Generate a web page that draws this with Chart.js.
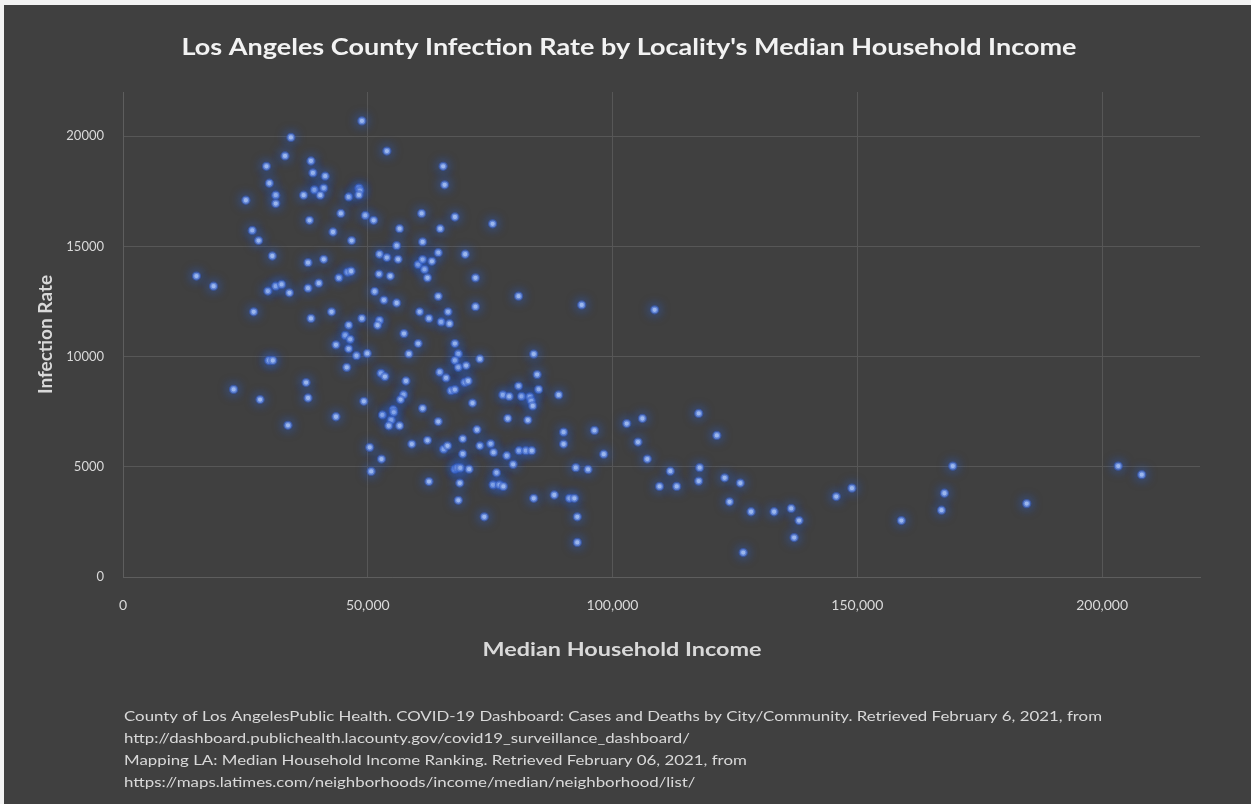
<!DOCTYPE html>
<html>
<head>
<meta charset="utf-8">
<script src="https://cdn.jsdelivr.net/npm/chart.js@4.4.1/dist/chart.umd.min.js"></script>
<style>
  html, body { margin: 0; padding: 0; width: 1251px; height: 804px; overflow: hidden; background: #f3f3f3; }
  #panel { position: absolute; left: 4px; top: 5px; width: 1247px; height: 799px; background: #404040; }
  canvas { display: block; }
</style>
</head>
<body>
<div id="panel"><canvas id="chart" width="1247" height="799"></canvas></div>
<script>
// Median household income (USD) per locality
const incomes = [
  34300, 33100, 29300, 29900, 31200, 31200, 25100, 26400, 27700, 30500,
  15000, 18500, 29600, 31200, 32400, 34000, 26700, 29800, 30600, 22600,
  28000, 33700, 48800, 53900, 38400, 38800, 41300, 39100, 41000, 36900,
  40300, 46100, 48200, 48400, 48200, 44500, 49500, 51200, 38100, 42900,
  46700, 56500, 61000, 65400, 65700, 67800, 75500, 64800, 61200, 55900,
  52400, 53900, 56200, 37800, 41000, 64400, 69900, 60300, 61200, 61600,
  63100, 62200, 72000, 52300, 54600, 37800, 40000, 44100, 45900, 46600,
  51400, 53300, 55900, 64400, 72000, 38400, 42600, 48800, 46100, 45400,
  46400, 52400, 52000, 57400, 60600, 62500, 65000, 66400, 66700, 43500,
  46100, 47700, 49900, 45700, 60300, 58400, 52700, 53500, 57800, 57300,
  56700, 37400, 37800, 49200, 43500, 53000, 55200, 55300, 54800, 54300,
  56500, 61200, 64400, 50400, 52800, 50700, 59000, 62200, 62500, 67800,
  68500, 67800, 68500, 70100, 72900, 64700, 66000, 67000, 67800, 69800,
  70500, 71400, 72300, 69400, 65500, 66300, 72900, 69400, 67800, 68300,
  68900, 70700, 68800, 68500, 80800, 93700, 108600, 83900, 84600, 84900,
  80800, 77600, 78900, 81400, 83100, 83400, 83700, 89000, 78600, 82700,
  75100, 75700, 90000, 90000, 96300, 98200, 78400, 79700, 80900, 82300,
  83500, 92500, 95000, 76300, 75600, 76900, 77700, 83900, 88100, 91200,
  92200, 73800, 92800, 92800, 102900, 106100, 105200, 107100, 111800, 109600,
  113100, 117600, 121300, 117800, 117600, 122900, 126100, 123900, 128300, 133000,
  136500, 138100, 137100, 126700, 145700, 148900, 159000, 167200, 167800, 169500,
  184600, 203300, 208100
];

// Infection rate per locality, same order as incomes
const infectionRates = [
  19940, 19100, 18630, 17860, 17320, 16940, 17090, 15720, 15260, 14560,
  13650, 13190, 12970, 13190, 13270, 12890, 12030, 9820, 9820, 8510,
  8050, 6880, 20690, 19320, 18870, 18330, 18180, 17560, 17640, 17320,
  17320, 17240, 17640, 17530, 17330, 16490, 16400, 16180, 16180, 15650,
  15260, 15800, 16490, 18630, 17790, 16330, 16020, 15800, 15200, 15030,
  14640, 14490, 14410, 14260, 14410, 14710, 14640, 14170, 14400, 13950,
  14320, 13570, 13570, 13740, 13650, 13100, 13330, 13570, 13830, 13870,
  12950, 12560, 12430, 12730, 12260, 11730, 12030, 11730, 11420, 10960,
  10780, 11640, 11420, 11040, 12030, 11730, 11570, 12030, 11490, 10530,
  10350, 10040, 10140, 9510, 10590, 10120, 9240, 9090, 8890, 8270,
  8050, 8820, 8120, 7970, 7270, 7350, 7590, 7470, 7120, 6860,
  6860, 7650, 7050, 5880, 5350, 4790, 6030, 6200, 4330, 10590,
  10120, 9820, 9510, 9590, 9890, 9290, 9030, 8450, 8500, 8830,
  8890, 7890, 6680, 6270, 5800, 5950, 5950, 5580, 4890, 4950,
  4950, 4890, 4260, 3480, 12740, 12340, 12120, 10110, 9180, 8510,
  8660, 8260, 8190, 8190, 8170, 7990, 7760, 8260, 7190, 7120,
  6040, 5650, 6570, 6030, 6650, 5570, 5500, 5110, 5730, 5730,
  5730, 4960, 4880, 4730, 4180, 4180, 4110, 3570, 3720, 3570,
  3570, 2730, 2730, 1570, 6960, 7190, 6120, 5350, 4800, 4110,
  4110, 7420, 6420, 4960, 4350, 4500, 4260, 3410, 2960, 2960,
  3110, 2560, 1790, 1110, 3650, 4030, 2560, 3030, 3800, 5030,
  3330, 5030, 4640
];

const xTickValues = [0, 50000, 100000, 150000, 200000];
const yTickValues = [0, 5000, 10000, 15000, 20000];

const chartTitle = "Los Angeles County Infection Rate by Locality's Median Household Income";
const xAxisTitle = "Median Household Income";
const yAxisTitle = "Infection Rate";
const sourceLines = [
  "County of Los AngelesPublic Health. COVID-19 Dashboard: Cases and Deaths by City/Community. Retrieved February 6, 2021, from",
  "http://dashboard.publichealth.lacounty.gov/covid19_surveillance_dashboard/",
  "Mapping LA: Median Household Income Ranking. Retrieved February 06, 2021, from",
  "https://maps.latimes.com/neighborhoods/income/median/neighborhood/list/"
];

const FONT = "Lato, 'Open Sans', sans-serif";
const TEXT = '#d9d9d9';
const GRID = '#575757';

// Draws a line of text stretched horizontally to a given width
function drawFitted(ctx, text, x, y, font, width, align) {
  ctx.save();
  ctx.font = font;
  const w = ctx.measureText(text).width;
  const sx = width / w;
  ctx.textBaseline = 'middle';
  ctx.textAlign = 'left';
  const startX = align === 'center' ? x - width / 2 : x;
  ctx.translate(startX, y);
  ctx.scale(sx, 1);
  ctx.fillText(text, 0, 0);
  ctx.restore();
  return sx;
}

// Soft blue halo around every point
const glowPlugin = {
  id: 'pointGlow',
  beforeDatasetsDraw(chart) {
    const ctx = chart.ctx;
    ctx.save();
    ctx.shadowColor = 'rgba(45, 95, 210, 1)';
    ctx.shadowBlur = 11;
  },
  afterDatasetsDraw(chart) {
    chart.ctx.restore();
  }
};

// Title, horizontal axis title and source notes
const textPlugin = {
  id: 'chartTexts',
  afterDraw(chart) {
    const ctx = chart.ctx;
    ctx.save();
    ctx.fillStyle = '#f2f2f2';
    drawFitted(ctx, chartTitle, 625, 43, `bold 23px ${FONT}`, 895, 'center');
    ctx.fillStyle = TEXT;
    drawFitted(ctx, xAxisTitle, 618, 645, `bold 19px ${FONT}`, 279, 'center');
    ctx.font = `13px ${FONT}`;
    const sx = 978 / ctx.measureText(sourceLines[0]).width;
    sourceLines.forEach((line, i) => {
      ctx.save();
      ctx.font = `13px ${FONT}`;
      ctx.textBaseline = 'middle';
      ctx.translate(120, 712 + i * 22);
      ctx.scale(sx, 1);
      ctx.fillText(line, 0, 0);
      ctx.restore();
    });
    ctx.restore();
  }
};

const points = incomes.map((x, i) => ({ x, y: infectionRates[i] }));

new Chart(document.getElementById('chart'), {
  type: 'scatter',
  data: {
    datasets: [{
      data: points,
      pointRadius: 3.4,
      pointBorderWidth: 2.5,
      pointBorderColor: 'rgba(60, 100, 200, 0.6)',
      pointBackgroundColor: '#aec6f2'
    }]
  },
  options: {
    responsive: false,
    devicePixelRatio: 1,
    animation: false,
    events: [],
    layout: { padding: { left: 0, right: 51, top: 87, bottom: 0 } },
    plugins: {
      legend: { display: false },
      tooltip: { enabled: false },
      title: { display: false }
    },
    scales: {
      x: {
        type: 'linear',
        min: 0,
        max: 220000,
        afterBuildTicks: s => { s.ticks = xTickValues.map(v => ({ value: v })); },
        afterFit: s => { s.height = 227; },
        grid: { color: GRID, drawTicks: false },
        border: { color: '#5e5e5e' },
        ticks: {
          color: TEXT,
          padding: 20,
          font: { family: FONT, size: 14 },
          callback: v => v.toLocaleString('en-US')
        }
      },
      y: {
        type: 'linear',
        min: 0,
        max: 22000,
        afterBuildTicks: s => { s.ticks = yTickValues.map(v => ({ value: v })); },
        afterFit: s => { s.width = 119; },
        grid: { color: GRID, drawTicks: false },
        border: { color: '#5e5e5e' },
        ticks: {
          color: TEXT,
          padding: 19,
          font: { family: FONT, size: 13 },
          callback: v => String(v)
        },
        title: {
          display: true,
          text: yAxisTitle,
          color: TEXT,
          font: { family: FONT, size: 19, weight: 'bold' },
          padding: { top: 30, bottom: 0 }
        }
      }
    }
  },
  plugins: [glowPlugin, textPlugin]
});
</script>
</body>
</html>
